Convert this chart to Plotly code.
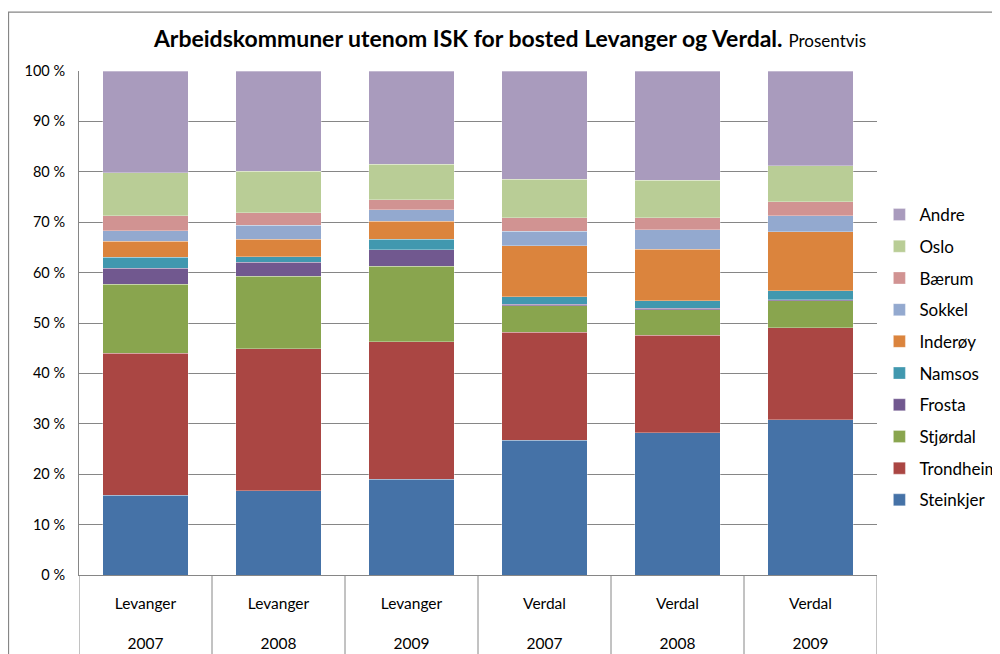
import plotly.graph_objects as go

places = ["Levanger", "Levanger", "Levanger", "Verdal", "Verdal", "Verdal"]
years = ["2007", "2008", "2009", "2007", "2008", "2009"]

series = ["Steinkjer", "Trondheim", "Stjørdal", "Frosta", "Namsos",
          "Inderøy", "Sokkel", "Bærum", "Oslo", "Andre"]

steinkjer = [15.8, 16.7, 19.0, 26.7, 28.2, 30.8]
trondheim = [28.2, 28.2, 27.3, 21.5, 19.4, 18.3]
stjordal = [13.7, 14.4, 15.0, 5.2, 5.0, 5.3]
frosta = [3.2, 2.8, 3.2, 0.3, 0.3, 0.2]
namsos = [2.1, 1.0, 2.1, 1.5, 1.5, 1.8]
inderoy = [3.2, 3.5, 3.6, 10.1, 10.2, 11.7]
sokkel = [2.1, 2.8, 2.3, 2.9, 3.9, 3.2]
baerum = [3.0, 2.5, 2.0, 2.7, 2.4, 2.8]
oslo = [8.5, 8.2, 7.0, 7.6, 7.4, 7.1]
andre = [20.2, 19.9, 18.5, 21.5, 21.7, 18.8]

values = [steinkjer, trondheim, stjordal, frosta, namsos,
          inderoy, sokkel, baerum, oslo, andre]
colors = ["#4572A7", "#AA4643", "#89A54E", "#71588F", "#4198AF",
          "#DB843D", "#93A9CF", "#D19392", "#B9CD96", "#A99BBD"]

FONT = "Lato, 'Open Sans', sans-serif"
cats = [f"{p}<br><br>{y}" for p, y in zip(places, years)]

fig = go.Figure()
n = len(series)
for i, (name, vals, col) in enumerate(zip(series, values, colors)):
    fig.add_trace(go.Bar(
        x=cats, y=vals, name=name, legendgroup=name,
        legendrank=1000 + (n - i),
        marker=dict(color=col, line=dict(color="rgba(255,255,255,0.5)", width=0.6)),
    ))

shapes = []
for i in range(len(cats) + 1):
    shapes.append(dict(type="line", xref="x", yref="paper",
                       x0=i - 0.5, x1=i - 0.5, y0=0, y1=-0.2,
                       line=dict(color="#868686", width=1)))
# outer chart border
shapes.append(dict(type="rect", xref="paper", yref="paper",
                   x0=-0.0883, x1=1.2, y0=1.117, y1=-0.3,
                   line=dict(color="#868686", width=1.2), fillcolor="rgba(0,0,0,0)",
                   layer="below"))

# page has an 8px body margin: figure occupies page x 8..1000, y 8..654
fig.update_layout(
    width=992, height=646,
    barmode="stack", bargap=0.356,
    plot_bgcolor="white", paper_bgcolor="white",
    margin=dict(l=71, r=123, t=63, b=79, autoexpand=False),
    font=dict(family=FONT, color="#000000", size=13),
    title=dict(
        text="<b>Arbeidskommuner utenom ISK for bosted Levanger og Verdal.</b> "
             "<span style='font-size:17px'>Prosentvis</span>",
        x=0.506, xanchor="center", y=0.952, yanchor="middle",
        font=dict(family=FONT, size=23, color="#000000"),
    ),
    xaxis=dict(
        type="category", showgrid=False, showline=True, linecolor="#868686",
        linewidth=1, ticks="", tickfont=dict(size=15.5, family=FONT),
        ticklabelstandoff=14, range=[-0.5, 5.5], automargin=False,
    ),
    yaxis=dict(
        range=[0, 100], dtick=10, ticksuffix=" %", showgrid=True,
        gridcolor="#868686", gridwidth=1, showline=True, linecolor="#868686",
        linewidth=1, ticks="", ticklabelstandoff=10, zeroline=False,
        tickfont=dict(size=14.5, family=FONT), automargin=False,
    ),
    legend=dict(
        x=1.003, y=0.75, xanchor="left", yanchor="top",
        traceorder="grouped", tracegroupgap=6.6,
        font=dict(size=17, family=FONT), bgcolor="rgba(0,0,0,0)",
    ),
    shapes=shapes,
)

fig.write_html("out.html")
